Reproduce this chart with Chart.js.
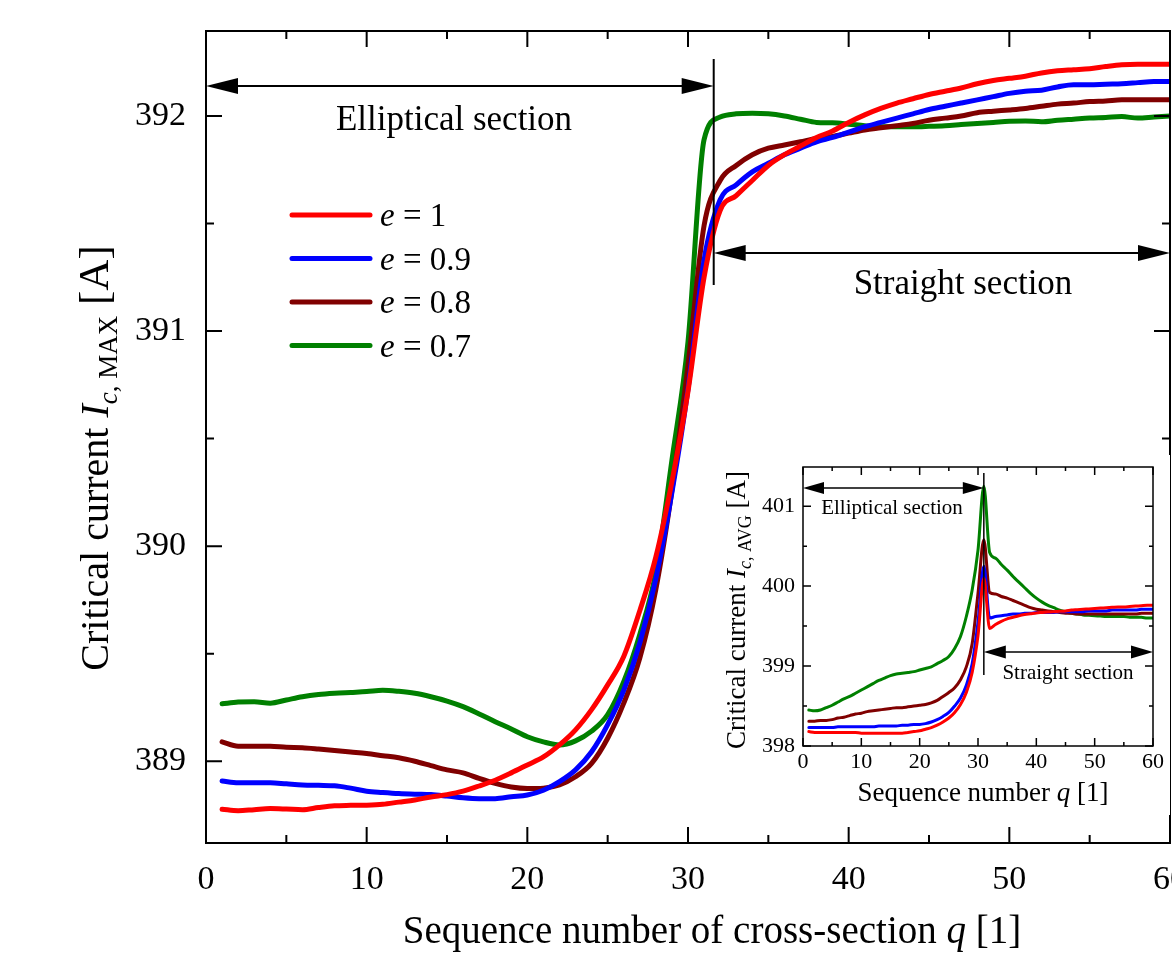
<!DOCTYPE html>
<html>
<head>
<meta charset="utf-8">
<script src="https://cdn.jsdelivr.net/npm/chart.js@4.4.1/dist/chart.umd.min.js"></script>
<style>
  html, body { margin: 0; padding: 0; background: #ffffff; overflow: hidden; }
  #wrap { position: relative; width: 1172px; height: 955px; overflow: hidden; background: #ffffff; }
  #main { position: absolute; left: 0; top: 0; }
  #inset { position: absolute; left: 700px; top: 455px; }
</style>
</head>
<body>
<div id="wrap">
  <canvas id="main" width="1260" height="955" style="width:1260px;height:955px"></canvas>
  <canvas id="inset" width="470" height="360" style="width:470px;height:360px"></canvas>
</div>
<script>
// Sequence number of the cross-section
const seq = [1, 2, 3, 4, 5, 6, 7, 8, 9, 10, 11, 12, 13, 14, 15, 16, 17, 18, 19, 20,
  21, 22, 23, 24, 25, 26, 27, 28, 29, 30, 31, 32, 33, 34, 35, 36, 37, 38, 39, 40,
  41, 42, 43, 44, 45, 46, 47, 48, 49, 50, 51, 52, 53, 54, 55, 56, 57, 58, 59, 60];

// Ellipticity of each series
const eLabels = ['1', '0.9', '0.8', '0.7'];
const seriesColors = ['#ff0000', '#0000ff', '#800000', '#008000'];

// Maximum critical current Ic,MAX [A]
const icMaxE10 = [388.777, 388.770, 388.775, 388.780, 388.778, 388.775, 388.785, 388.793, 388.795, 388.796,
  388.800, 388.810, 388.820, 388.834, 388.845, 388.861, 388.885, 388.912, 388.946, 388.983,
  389.020, 389.076, 389.146, 389.240, 389.355, 389.487, 389.700, 389.950, 390.300, 390.720,
  391.250, 391.560, 391.630, 391.700, 391.770, 391.820, 391.860, 391.900, 391.930, 391.970,
  392.005, 392.035, 392.060, 392.080, 392.100, 392.115, 392.130, 392.150, 392.165, 392.175,
  392.185, 392.200, 392.210, 392.215, 392.220, 392.230, 392.238, 392.240, 392.240, 392.240];
const icMaxE09 = [388.908, 388.900, 388.900, 388.900, 388.895, 388.890, 388.888, 388.886, 388.875, 388.861,
  388.855, 388.850, 388.847, 388.845, 388.838, 388.830, 388.826, 388.826, 388.835, 388.843,
  388.865, 388.905, 388.960, 389.044, 389.170, 389.330, 389.550, 389.850, 390.250, 390.730,
  391.330, 391.610, 391.680, 391.740, 391.780, 391.820, 391.850, 391.880, 391.900, 391.925,
  391.950, 391.970, 391.990, 392.010, 392.030, 392.045, 392.060, 392.075, 392.090, 392.105,
  392.115, 392.120, 392.135, 392.145, 392.145, 392.148, 392.150, 392.155, 392.160, 392.160];
const icMaxE08 = [389.090, 389.070, 389.070, 389.070, 389.065, 389.063, 389.057, 389.050, 389.043, 389.036,
  389.026, 389.016, 389.000, 388.980, 388.960, 388.946, 388.920, 388.897, 388.880, 388.873,
  388.875, 388.890, 388.928, 388.990, 389.107, 389.270, 389.480, 389.800, 390.260, 390.840,
  391.490, 391.700, 391.770, 391.820, 391.850, 391.865, 391.880, 391.895, 391.905, 391.920,
  391.935, 391.945, 391.955, 391.965, 391.980, 391.990, 392.000, 392.015, 392.022, 392.028,
  392.035, 392.045, 392.055, 392.060, 392.067, 392.070, 392.075, 392.075, 392.075, 392.075];
const icMaxE07 = [389.267, 389.275, 389.277, 389.270, 389.285, 389.300, 389.310, 389.316, 389.320, 389.324,
  389.330, 389.325, 389.316, 389.300, 389.280, 389.254, 389.220, 389.184, 389.150, 389.114,
  389.090, 389.076, 389.095, 389.140, 389.217, 389.370, 389.590, 389.880, 390.400, 390.950,
  391.890, 391.995, 392.010, 392.013, 392.010, 392.000, 391.985, 391.970, 391.968, 391.962,
  391.955, 391.950, 391.950, 391.950, 391.952, 391.955, 391.960, 391.965, 391.970, 391.975,
  391.977, 391.973, 391.980, 391.985, 391.990, 391.993, 391.997, 391.990, 391.995, 392.000];

// Average critical current Ic,AVG [A]
const icAvgE10 = [398.18, 398.17, 398.17, 398.17, 398.17, 398.17, 398.17, 398.17, 398.17, 398.16,
  398.16, 398.16, 398.16, 398.16, 398.16, 398.16, 398.16, 398.17, 398.18, 398.19,
  398.21, 398.23, 398.26, 398.30, 398.35, 398.42, 398.52, 398.67, 398.92, 399.38,
  400.10, 399.47, 399.52, 399.56, 399.59, 399.61, 399.63, 399.645, 399.655, 399.665,
  399.67, 399.675, 399.68, 399.685, 399.69, 399.70, 399.705, 399.71, 399.715, 399.72,
  399.725, 399.73, 399.735, 399.74, 399.74, 399.745, 399.75, 399.755, 399.76, 399.76];
const icAvgE09 = [398.23, 398.23, 398.23, 398.23, 398.23, 398.24, 398.24, 398.24, 398.24, 398.24,
  398.24, 398.24, 398.25, 398.25, 398.25, 398.25, 398.26, 398.26, 398.27, 398.27,
  398.28, 398.30, 398.33, 398.37, 398.42, 398.50, 398.60, 398.76, 399.03, 399.55,
  400.25, 399.60, 399.62, 399.63, 399.64, 399.65, 399.65, 399.66, 399.66, 399.67,
  399.67, 399.67, 399.67, 399.68, 399.68, 399.68, 399.68, 399.68, 399.69, 399.69,
  399.69, 399.69, 399.70, 399.70, 399.70, 399.70, 399.70, 399.71, 399.71, 399.71];
const icAvgE08 = [398.31, 398.31, 398.32, 398.32, 398.33, 398.35, 398.36, 398.38, 398.40, 398.41,
  398.43, 398.44, 398.45, 398.46, 398.47, 398.48, 398.48, 398.49, 398.50, 398.51,
  398.52, 398.54, 398.57, 398.62, 398.67, 398.73, 398.83, 398.99, 399.28, 399.91,
  400.58, 399.92, 399.90, 399.87, 399.85, 399.82, 399.79, 399.76, 399.73, 399.71,
  399.70, 399.69, 399.68, 399.67, 399.66, 399.66, 399.65, 399.65, 399.65, 399.65,
  399.65, 399.65, 399.65, 399.65, 399.65, 399.65, 399.65, 399.66, 399.66, 399.66];
const icAvgE07 = [398.45, 398.44, 398.45, 398.48, 398.51, 398.55, 398.59, 398.62, 398.66, 398.70,
  398.74, 398.78, 398.82, 398.85, 398.88, 398.90, 398.91, 398.92, 398.93, 398.95,
  398.97, 398.99, 399.03, 399.07, 399.12, 399.22, 399.37, 399.62, 399.95, 400.45,
  401.25, 400.42, 400.35, 400.27, 400.20, 400.12, 400.05, 399.98, 399.91, 399.85,
  399.80, 399.76, 399.73, 399.70, 399.68, 399.66, 399.65, 399.64, 399.635, 399.63,
  399.625, 399.62, 399.62, 399.62, 399.62, 399.61, 399.61, 399.61, 399.60, 399.60];

// Axis ticks
const xTickLabels = [0, 10, 20, 30, 40, 50, 60];
const yTickLabels = [389, 390, 391, 392];
const insetYTickLabels = [398, 399, 400, 401];

// End of the elliptical section (sequence number)
const mainBoundary = 31.6;
const insetBoundary = 31;

const SERIF = "'Liberation Serif', 'Times New Roman', serif";

function buildDatasets(seriesList, width) {
  return seriesList.map((vals, i) => ({
    label: 'e = ' + eLabels[i],
    data: seq.map((q, k) => ({ x: q, y: vals[k] })),
    borderColor: seriesColors[i],
    backgroundColor: seriesColors[i],
    borderWidth: width,
    pointRadius: 0,
    fill: false,
    cubicInterpolationMode: 'monotone',
    borderCapStyle: 'round',
    borderJoinStyle: 'round'
  }));
}

function runsWidth(ctx, runs) {
  let w = 0;
  for (const r of runs) { ctx.font = r.font; w += ctx.measureText(r.text).width; }
  return w;
}
function drawRuns(ctx, runs, x, y) {
  let cx = x;
  for (const r of runs) {
    ctx.font = r.font;
    ctx.fillText(r.text, cx, y + (r.dy || 0));
    cx += ctx.measureText(r.text).width;
  }
}
function drawRunsCentered(ctx, runs, cx, y) {
  drawRuns(ctx, runs, cx - runsWidth(ctx, runs) / 2, y);
}
function arrowHead(ctx, xTip, y, dir, len, half) {
  ctx.beginPath();
  ctx.moveTo(xTip, y);
  ctx.lineTo(xTip - dir * len, y - half);
  ctx.lineTo(xTip - dir * len, y + half);
  ctx.closePath();
  ctx.fill();
}
function doubleArrow(ctx, x1, x2, y, len, half, lw) {
  ctx.lineWidth = lw;
  ctx.beginPath();
  ctx.moveTo(x1 + len * 0.6, y);
  ctx.lineTo(x2 - len * 0.6, y);
  ctx.stroke();
  arrowHead(ctx, x1, y, -1, len, half);
  arrowHead(ctx, x2, y, 1, len, half);
}
function drawFrameAndTicks(chart, lw, majorLen, minorLen, xMinorStep, yMinorStep, yTicks) {
  const { ctx, chartArea: { left, right, top, bottom }, scales: { x, y } } = chart;
  ctx.strokeStyle = '#000';
  ctx.lineWidth = lw;
  ctx.lineCap = 'butt';
  ctx.strokeRect(left, top, right - left, bottom - top);
  ctx.beginPath();
  for (let v = x.min; v <= x.max + 1e-9; v += xMinorStep) {
    const len = xTickLabels.includes(Math.round(v)) && Math.abs(v - Math.round(v)) < 1e-9 ? majorLen : minorLen;
    const px = x.getPixelForValue(v);
    ctx.moveTo(px, bottom); ctx.lineTo(px, bottom - len);
    ctx.moveTo(px, top); ctx.lineTo(px, top + len);
  }
  const first = yTicks[0] - yMinorStep * 2;
  for (let v = first; v <= y.max + 1e-9; v += yMinorStep) {
    if (v < y.min) continue;
    const isMajor = yTicks.some(t => Math.abs(t - v) < 1e-9);
    const len = isMajor ? majorLen : minorLen;
    const py = y.getPixelForValue(v);
    ctx.moveTo(left, py); ctx.lineTo(left + len, py);
    ctx.moveTo(right, py); ctx.lineTo(right - len, py);
  }
  ctx.stroke();
}

const mainDecor = {
  id: 'mainDecor',
  afterDraw(chart) {
    const { ctx, chartArea: { left, right }, scales: { x, y } } = chart;
    ctx.save();
    drawFrameAndTicks(chart, 2, 16, 8, 5, 0.5, yTickLabels);

    // Section boundary and arrows
    const bx = x.getPixelForValue(mainBoundary);
    ctx.fillStyle = '#000';
    ctx.strokeStyle = '#000';
    ctx.lineWidth = 2;
    ctx.beginPath();
    ctx.moveTo(bx, 59); ctx.lineTo(bx, 285);
    ctx.stroke();
    doubleArrow(ctx, left, bx, 86, 32, 8, 2);
    doubleArrow(ctx, bx, right, 253, 32, 8, 2);

    ctx.textBaseline = 'alphabetic';
    ctx.textAlign = 'left';
    drawRunsCentered(ctx, [{ text: 'Elliptical section', font: '35px ' + SERIF }], 454, 130);
    drawRunsCentered(ctx, [{ text: 'Straight section', font: '35px ' + SERIF }], 963, 294);

    // Legend
    chart.data.datasets.forEach((ds, i) => {
      const ly = 215 + i * 43.5;
      ctx.strokeStyle = ds.borderColor;
      ctx.lineWidth = 5;
      ctx.lineCap = 'round';
      ctx.beginPath();
      ctx.moveTo(292, ly); ctx.lineTo(370, ly);
      ctx.stroke();
      ctx.fillStyle = '#000';
      drawRuns(ctx, [
        { text: 'e', font: 'italic 33px ' + SERIF },
        { text: ' = ' + eLabels[i], font: '33px ' + SERIF }
      ], 380, ly + 11);
    });

    // Axis titles
    ctx.fillStyle = '#000';
    drawRunsCentered(ctx, [
      { text: 'Sequence number of cross-section ', font: '39px ' + SERIF },
      { text: 'q', font: 'italic 39px ' + SERIF },
      { text: ' [1]', font: '39px ' + SERIF }
    ], 712, 943);

    ctx.save();
    ctx.translate(108, 458);
    ctx.rotate(-Math.PI / 2);
    drawRunsCentered(ctx, [
      { text: 'Critical current ', font: '40px ' + SERIF },
      { text: 'I', font: 'italic 40px ' + SERIF },
      { text: 'c', font: 'italic 27px ' + SERIF, dy: 9 },
      { text: ', MAX', font: '27px ' + SERIF, dy: 9 },
      { text: ' [A]', font: '43px ' + SERIF }
    ], 0, 0);
    ctx.restore();
    ctx.restore();
  }
};

const insetDecor = {
  id: 'insetDecor',
  beforeDraw(chart) {
    const { ctx } = chart;
    ctx.save();
    ctx.fillStyle = '#ffffff';
    ctx.fillRect(0, 0, chart.width, chart.height);
    ctx.restore();
  },
  afterDraw(chart) {
    const { ctx, chartArea: { left, right }, scales: { x } } = chart;
    ctx.save();
    drawFrameAndTicks(chart, 1.5, 8, 4, 5, 0.5, insetYTickLabels);

    const bx = x.getPixelForValue(insetBoundary);
    ctx.fillStyle = '#000';
    ctx.strokeStyle = '#000';
    ctx.lineWidth = 1.5;
    ctx.beginPath();
    ctx.moveTo(bx, 18); ctx.lineTo(bx, 220);
    ctx.stroke();
    doubleArrow(ctx, left, bx, 33, 21, 6, 1.5);
    doubleArrow(ctx, bx, right, 197, 22, 6.5, 1.5);

    ctx.textBaseline = 'alphabetic';
    ctx.textAlign = 'left';
    drawRunsCentered(ctx, [{ text: 'Elliptical section', font: '21px ' + SERIF }], 192, 59);
    drawRunsCentered(ctx, [{ text: 'Straight section', font: '21px ' + SERIF }], 368, 224);

    drawRunsCentered(ctx, [
      { text: 'Sequence number ', font: '27px ' + SERIF },
      { text: 'q', font: 'italic 27px ' + SERIF },
      { text: ' [1]', font: '27px ' + SERIF }
    ], 283, 346);

    ctx.save();
    ctx.translate(45, 155);
    ctx.rotate(-Math.PI / 2);
    drawRunsCentered(ctx, [
      { text: 'Critical current ', font: '27px ' + SERIF },
      { text: 'I', font: 'italic 27px ' + SERIF },
      { text: 'c', font: 'italic 18px ' + SERIF, dy: 6 },
      { text: ', AVG', font: '18px ' + SERIF, dy: 6 },
      { text: ' [A]', font: '27px ' + SERIF }
    ], 0, 0);
    ctx.restore();
    ctx.restore();
  }
};

function axisOptions(min, max, ticks, fontSize, padding, fitProp, fitValue) {
  return {
    type: 'linear',
    min: min,
    max: max,
    afterBuildTicks: s => { s.ticks = ticks.map(v => ({ value: v })); },
    afterFit: s => {
      s[fitProp] = fitValue;
      s.paddingTop = 0;
      s.paddingBottom = 0;
      s.paddingLeft = 0;
      s.paddingRight = 0;
    },
    grid: { display: false, drawTicks: false },
    border: { display: false },
    ticks: {
      color: '#000',
      font: { family: SERIF, size: fontSize },
      padding: padding,
      maxRotation: 0,
      autoSkip: false
    }
  };
}

new Chart(document.getElementById('main'), {
  type: 'line',
  data: { datasets: buildDatasets([icMaxE10, icMaxE09, icMaxE08, icMaxE07], 5) },
  options: {
    responsive: false,
    animation: false,
    devicePixelRatio: 1,
    layout: { padding: { top: 31, right: 90, left: 0, bottom: 0 } },
    plugins: { legend: { display: false }, tooltip: { enabled: false } },
    scales: {
      x: axisOptions(0, 60, xTickLabels, 34, 17, 'height', 112),
      y: axisOptions(388.62, 392.395, yTickLabels, 34, 20, 'width', 206)
    }
  },
  plugins: [mainDecor]
});

new Chart(document.getElementById('inset'), {
  type: 'line',
  data: { datasets: buildDatasets([icAvgE10, icAvgE09, icAvgE08, icAvgE07], 3) },
  options: {
    responsive: false,
    animation: false,
    devicePixelRatio: 1,
    layout: { padding: { top: 12, right: 17, left: 0, bottom: 0 } },
    plugins: { legend: { display: false }, tooltip: { enabled: false } },
    scales: {
      x: axisOptions(0, 60, xTickLabels, 22, 3, 'height', 69),
      y: axisOptions(398, 401.49, insetYTickLabels, 22, 8, 'width', 103)
    }
  },
  plugins: [insetDecor]
});
</script>
</body>
</html>
